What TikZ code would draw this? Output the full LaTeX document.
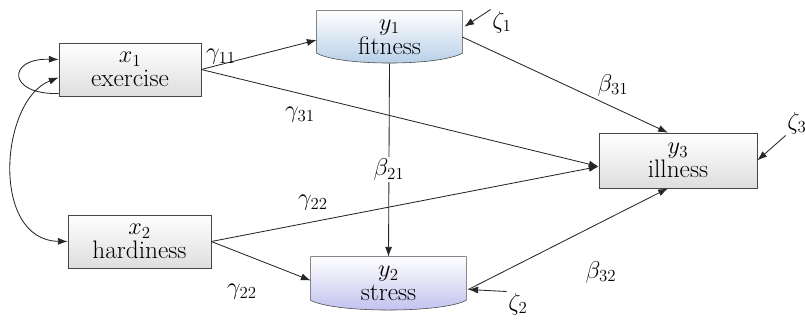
\documentclass[tikz,border=0pt]{standalone}
\usepackage{tikz}
\usetikzlibrary{arrows.meta, calc, backgrounds}
\definecolor{BoxLine}{RGB}{70,70,70}
\definecolor{BoxGray}{RGB}{222,222,222}
\definecolor{FitBlue}{RGB}{180,205,230}
\definecolor{StressBlue}{RGB}{190,190,238}

\begin{document}
\begin{tikzpicture}[x=0.025cm,y=-0.025cm,
        font=\fontsize{18}{17}\selectfont,
        varbox/.style={draw=BoxLine,top color=white,bottom color=BoxGray,
                       align=center,inner sep=0pt,minimum height=1.325cm},
        latbox/.style={align=center,inner sep=0pt,minimum height=1.3cm},
        arr/.style={draw=black!85,line width=0.6pt,-{Latex[length=7pt,width=5pt]}},
        dblarr/.style={draw=black!85,line width=0.6pt,
                       {Latex[length=7pt,width=5pt]}-{Latex[length=7pt,width=5pt]}},
        lbl/.style={inner sep=1pt}
      ]
        \useasboundingbox (0,0) rectangle (805,321);
        % observed and latent variables
        \node[varbox,minimum width=3.55cm]  (x1) at (130,69.5)  {$x_1$\\exercise};
        \node[varbox,minimum width=3.575cm] (x2) at (139.5,241.5) {$x_2$\\hardiness};
        \node[varbox,minimum width=3.95cm,minimum height=1.375cm] (y3) at (678,160.5) {$y_3$\\illness};
        \node[latbox,minimum width=3.625cm] (y1) at (389.5,37) {$y_1$\\fitness};
        \node[latbox,minimum width=3.875cm,minimum height=1.325cm] (y2) at (388.5,283.5) {$y_2$\\stress};
        \begin{scope}[on background layer]
          \path[draw=BoxLine,top color=white,bottom color=FitBlue]
            (y1.north west) -- (y1.north east) -- ($(y1.south east)+(0,-10)$)
            .. controls ($(y1.south east)+(-24,3)$) and ($(y1.south west)+(24,3)$)
            .. ($(y1.south west)+(0,-10)$) -- cycle;
          \path[draw=BoxLine,top color=white,bottom color=StressBlue]
            (y2.north west) -- (y2.north east) -- ($(y2.south east)+(0,-10)$)
            .. controls ($(y2.south east)+(-24,3)$) and ($(y2.south west)+(24,3)$)
            .. ($(y2.south west)+(0,-10)$) -- cycle;
        \end{scope}
        % disturbances
        \node[lbl] (z1) at (502,22)  {$\zeta_1$};
        \node[lbl] (z2) at (518,304) {$\zeta_2$};
        \node[lbl] (z3) at (797,123) {$\zeta_3$};
        % paths
        \draw[arr] (x1.east) -- ($(y1.west)+(0,3)$);
        \draw[arr] (x1.east) -- ($(y3.west)+(0,6)$);
        \draw[arr] (x2.east) -- ($(y3.west)+(0,6)$);
        \draw[arr] (x2.east) -- ($(y2.west)+(0,-3)$);
        \draw[arr] (y1.south) -- node[fill=white,inner sep=1pt,pos=0.55] (b21) {$\beta_{21}$} (y2.north);
        \draw[arr] (y1.east) -- ($(y3.north)+(-10,0)$);
        \draw[arr] ($(y2.east)+(2,6)$) -- ($(y3.south)+(-10,0)$);
        \draw[arr] (z1.north west) -- ($(y1.north east)+(2,16)$);
        \draw[arr] (z2.north west) -- ($(y2.east)+(2,6)$);
        \draw[arr] (z3.south west) -- (y3.east);
        % loop and covariance
        \draw[arr] ($(x1.west)+(0,24)$) .. controls (7,95) and (7,58) .. ($(x1.west)+(0,-10)$);
        \draw[dblarr] ($(x1.west)+(0,8)$) .. controls (0,100) and (-10,240) .. (x2.west);
        % coefficients
        \node[lbl] (g11) at (221,57)  {$\gamma_{11}$};
        \node[lbl] (g31) at (300,115) {$\gamma_{31}$};
        \node[lbl] (g22a) at (313,203) {$\gamma_{22}$};
        \node[lbl] (g22b) at (242,292) {$\gamma_{22}$};
        \node[lbl] (b31) at (613,85)  {$\beta_{31}$};
        \node[lbl] (b32) at (601,272) {$\beta_{32}$};
      \end{tikzpicture}
\end{document}
